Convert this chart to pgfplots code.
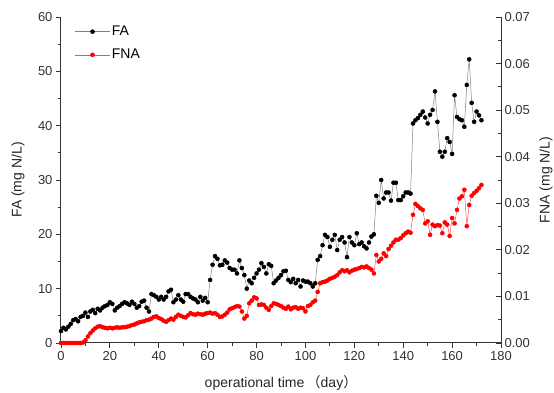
\documentclass[border=0pt]{standalone}
\usepackage{pgfplots}
\usepackage{pgfplotstable}
\pgfplotsset{compat=1.18}
\usepackage{fontspec}
\setmainfont{Liberation Sans}
\newfontfamily\cjk{Noto Sans CJK SC}
\definecolor{axgray}{HTML}{333333}

\pgfplotstableread{
d v
0 2.2
1 2.8
2 2.5
3 3.0
4 3.5
5 4.2
6 4.4
7 4.0
8 4.8
9 5.0
10 5.6
11 4.8
12 5.8
13 6.1
14 5.5
15 6.3
16 6.0
17 6.5
18 6.8
19 7.0
20 7.5
21 7.2
22 6.0
23 6.5
24 6.8
25 7.2
26 7.5
27 7.3
28 7.0
29 7.6
30 7.2
31 6.5
32 6.8
33 7.6
34 7.8
35 6.5
36 5.8
37 9.0
38 8.8
39 8.5
40 8.0
41 8.5
42 8.0
43 8.5
44 9.5
45 9.8
46 7.5
47 8.0
48 8.8
49 8.0
50 7.6
51 9.0
52 9.0
53 8.5
54 8.2
55 8.0
56 7.5
57 8.5
58 7.8
59 8.3
60 7.5
61 11.6
62 14.4
63 16.0
64 15.5
65 14.3
66 14.4
67 15.2
68 14.8
69 13.8
70 13.5
71 13.5
72 12.8
73 15.2
74 13.8
75 12.5
76 10.0
77 11.5
78 11.0
79 12.0
80 12.8
81 13.5
82 14.7
83 14.0
84 12.8
85 14.5
86 14.2
87 11.0
88 11.5
89 12.0
90 12.5
91 13.2
92 13.3
93 11.6
94 11.2
95 11.8
96 11.0
97 11.6
98 10.4
99 11.5
100 11.3
101 11.3
102 11.0
103 10.4
104 11.0
105 15.3
106 16.0
107 18.0
108 19.9
109 19.5
110 17.7
111 19.0
112 19.9
113 17.1
114 19.0
115 19.5
116 18.5
117 15.8
118 19.5
119 18.5
120 18.0
121 20.2
122 18.2
123 18.5
124 17.8
125 17.4
126 18.5
127 19.6
128 20.0
129 27.1
130 25.8
131 30.0
132 26.6
133 27.7
134 27.7
135 26.2
136 29.5
137 29.5
138 26.3
139 26.3
140 27.0
141 27.7
142 27.7
143 27.5
144 40.4
145 41.0
146 41.4
147 42.0
148 42.6
149 41.5
150 40.4
151 42.0
152 42.9
153 46.3
154 40.7
155 35.2
156 34.3
157 35.2
158 37.7
159 37.0
160 34.8
161 45.6
162 41.6
163 41.2
164 41.0
165 39.8
166 47.5
167 52.2
168 44.2
169 40.7
170 42.6
171 41.9
172 41.0
}\fatable

\pgfplotstableread{
d v
0 0
1 0
2 0
3 0
4 0
5 0
6 0
7 0
8 0
9 0.0001
10 0.00058
11 0.00140
12 0.00210
13 0.00268
14 0.00315
15 0.00350
16 0.00362
17 0.00338
18 0.00327
19 0.00315
20 0.00327
21 0.00315
22 0.00327
23 0.00338
24 0.00327
25 0.00338
26 0.00338
27 0.00350
28 0.00362
29 0.00385
30 0.00397
31 0.00420
32 0.00443
33 0.00455
34 0.00467
35 0.00490
36 0.00502
37 0.00525
38 0.00560
39 0.00572
40 0.00537
41 0.00513
42 0.00478
43 0.00455
44 0.00490
45 0.00525
46 0.00502
47 0.00560
48 0.00607
49 0.00583
50 0.00560
51 0.00548
52 0.00595
53 0.00642
54 0.00618
55 0.00607
56 0.00630
57 0.00618
58 0.00607
59 0.00630
60 0.00642
61 0.00653
62 0.00630
63 0.00642
64 0.00607
65 0.00560
66 0.00572
67 0.00607
68 0.00653
69 0.00723
70 0.00747
71 0.00770
72 0.00793
73 0.00782
74 0.00677
75 0.00525
76 0.00583
77 0.00852
78 0.00910
79 0.00980
80 0.00957
81 0.00817
82 0.00828
83 0.00817
84 0.00758
85 0.00712
86 0.00793
87 0.00852
88 0.00840
89 0.00817
90 0.00793
91 0.00758
92 0.00735
93 0.00782
94 0.00723
95 0.00758
96 0.00770
97 0.00735
98 0.00758
99 0.00747
100 0.00677
101 0.00793
102 0.00817
103 0.00875
104 0.00910
105 0.01097
106 0.01283
107 0.01307
108 0.01318
109 0.01342
110 0.01377
111 0.01400
112 0.01423
113 0.01458
114 0.01517
115 0.01563
116 0.01540
117 0.01563
118 0.01517
119 0.01552
120 0.01575
121 0.01587
122 0.01610
123 0.01633
124 0.01622
125 0.01645
126 0.01610
127 0.01575
128 0.01493
129 0.01890
130 0.01750
131 0.01808
132 0.01925
133 0.01867
134 0.02018
135 0.02088
136 0.02158
137 0.02217
138 0.02217
139 0.02252
140 0.02310
141 0.02357
142 0.02392
143 0.02368
144 0.02753
145 0.02987
146 0.02940
147 0.02893
148 0.02858
149 0.02567
150 0.02613
151 0.02322
152 0.02543
153 0.02508
154 0.02532
155 0.02520
156 0.02357
157 0.02590
158 0.02543
159 0.02298
160 0.02683
161 0.02567
162 0.02858
163 0.03103
164 0.03150
165 0.03290
166 0.02508
167 0.02963
168 0.03162
169 0.03220
170 0.03267
171 0.03325
172 0.03395
}\fnatable

\pgfplotsset{
  common/.style={
    scale only axis, width=440pt, height=326pt,
    xmin=0, xmax=180,
    axis line style={axgray, line width=1pt},
    every tick/.style={axgray, line width=0.8pt},
    major tick length=5pt, minor tick length=3pt,
    tick label style={font=\fontsize{13}{13}\selectfont, text=axgray},
    label style={font=\fontsize{14}{14}\selectfont, text=black!85},
    /pgf/number format/assume math mode=true,
    clip=false,
  }
}

\begin{document}
\begin{tikzpicture}
\path[use as bounding box] (-61pt,-50pt) rectangle (493pt,343pt);
\begin{axis}[
  common,
  ymin=0, ymax=60,
  axis x line*=bottom, axis y line*=left,
  xtick={0,20,...,180}, minor x tick num=1,
  ytick={0,10,20,30,40,50,60}, minor y tick num=1,
  tick align=outside,
  xlabel={operational time\,{\cjk （}day{\cjk ）}},
  ylabel={FA (mg N/L)},
  xlabel style={at={(axis description cs:0.5,-0.1227)}, anchor=center},
  ylabel style={at={(axis description cs:-0.0977,0.5)}, anchor=center},
  legend style={draw=none, fill=none, at={(axis description cs:0.025,0.985)}, anchor=north west,
    font=\fontsize{14}{14}\selectfont, row sep=8pt},
  legend cell align=left,
  legend image code/.code={\draw[mark repeat=2,mark phase=2,#1] plot coordinates {(0cm,0cm) (0.6cm,0cm) (1.2cm,0cm)};},
]
\addplot[color=gray, line width=0.5pt, mark=*, mark size=2pt, mark options={draw=black, fill=black}] table[x=d, y=v] {\fatable};
\addlegendentry{FA}
\addlegendimage{color=red!70, line width=0.5pt, mark=*, mark size=2pt, mark options={draw=red, fill=red}}
\addlegendentry{FNA}
\end{axis}
\begin{axis}[
  common,
  ymin=0, ymax=0.07,
  axis x line=none, axis y line*=right,
  ytick={0,0.01,0.02,0.03,0.04,0.05,0.06,0.07}, minor y tick num=1,
  scaled y ticks=false,
  yticklabel style={/pgf/number format/.cd, fixed, fixed zerofill, precision=2},
  tick align=inside,
  ylabel={FNA (mg N/L)},
  ylabel style={at={(axis description cs:1.102,0.5)}, anchor=center},
]
\addplot[color=red!70, line width=0.5pt, mark=*, mark size=2pt, mark options={draw=red, fill=red}] table[x=d, y=v] {\fnatable};
\end{axis}
\end{tikzpicture}
\end{document}
